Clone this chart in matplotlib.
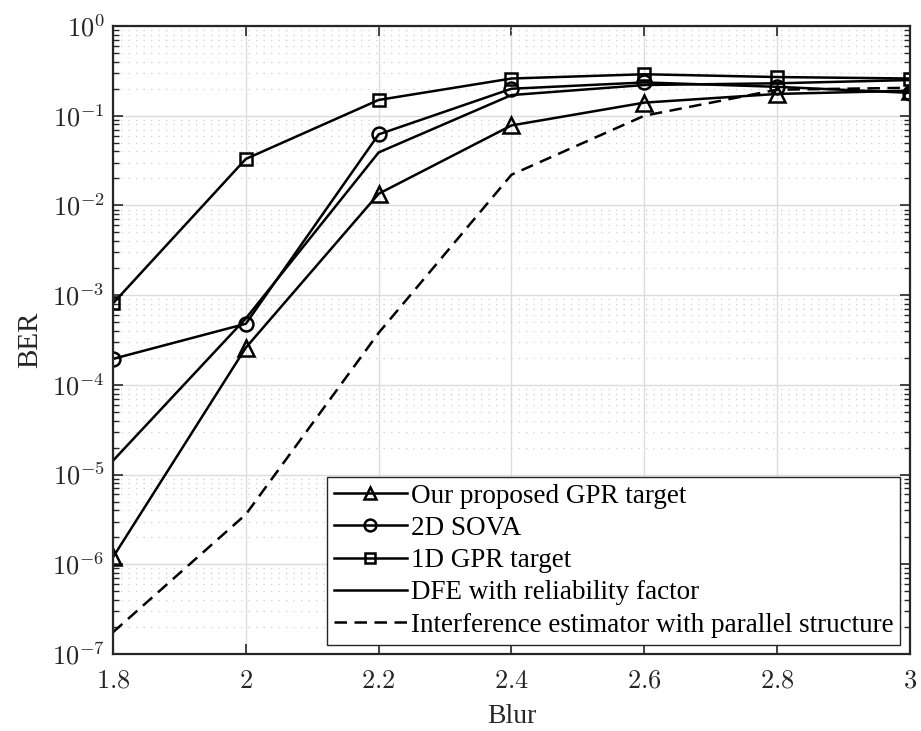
import math
import matplotlib
matplotlib.use("Agg")
import matplotlib.pyplot as plt
from matplotlib.ticker import FixedLocator, FuncFormatter, NullFormatter

plt.rcParams['mathtext.fontset'] = 'cm'

blur = [1.8, 2.0, 2.2, 2.4, 2.6, 2.8, 3.0]
ber_proposed = [1.2e-6, 2.6e-4, 1.35e-2, 7.8e-2, 0.14, 0.175, 0.19]
ber_sova2d = [1.95e-4, 4.8e-4, 6.2e-2, 0.20, 0.235, 0.21, 0.18]
ber_gpr1d = [8.1e-4, 3.3e-2, 0.15, 0.26, 0.29, 0.27, 0.26]
ber_dfe = [1.43e-5, 5.5e-4, 3.9e-2, 0.17, 0.22, 0.23, 0.25]
ber_interf = [1.75e-7, 3.6e-6, 3.8e-4, 2.2e-2, 0.10, 0.195, 0.205]

labels = ["Our proposed GPR target", "2D SOVA", "1D GPR target",
          "DFE with reliability factor", "Interference estimator with parallel structure"]
xticks = [1.8, 2.0, 2.2, 2.4, 2.6, 2.8, 3.0]
yexps = [-7, -6, -5, -4, -3, -2, -1, 0]

fig = plt.figure(figsize=(9.21, 7.31), dpi=100)
ax = fig.add_axes([0.1227, 0.1053, 0.8653, 0.8591])

lw = 1.8
ax.plot(blur, ber_proposed, '-^', color='k', lw=lw, ms=11, mfc='none', mew=1.8, label=labels[0])
ax.plot(blur, ber_sova2d, '-o', color='k', lw=lw, ms=10, mfc='none', mew=1.8, label=labels[1])
ax.plot(blur, ber_gpr1d, '-s', color='k', lw=lw, ms=9, mfc='none', mew=1.8, label=labels[2])
ax.plot(blur, ber_dfe, '-', color='k', lw=lw, label=labels[3])
ax.plot(blur, ber_interf, '--', color='k', lw=lw, dashes=(5, 3), label=labels[4])

ax.set_yscale('log')
ax.set_xlim(1.8, 3.0)
ax.set_ylim(1e-7, 1e0)
ax.xaxis.set_major_locator(FixedLocator(xticks))
ax.xaxis.set_major_formatter(FuncFormatter(lambda v, p: r'$%g$' % round(v, 2)))
ax.yaxis.set_major_locator(FixedLocator([10.0 ** e for e in yexps]))
minor = [m * 10.0 ** e for e in yexps[:-1] for m in range(2, 10)]
ax.yaxis.set_minor_locator(FixedLocator(minor))
ax.yaxis.set_minor_formatter(NullFormatter())
ax.yaxis.set_major_formatter(FuncFormatter(lambda v, p: r'$10^{%d}$' % round(math.log10(v))))

ax.tick_params(axis='both', which='both', direction='in', top=True, right=True,
               colors='#262626', labelsize=19)
ax.tick_params(axis='both', which='major', length=7, width=1.2)
ax.tick_params(axis='y', which='minor', length=4, width=1.0)
ax.tick_params(axis='x', which='major', pad=10)
ax.tick_params(axis='y', which='major', pad=6)

ax.grid(True, which='major', color='#dcdcdc', lw=1.0, ls='-')
ax.grid(True, which='minor', axis='y', color='#cfcfcf', lw=0.9, ls=(0, (1, 5)))
ax.set_axisbelow(True)
for s in ax.spines.values():
    s.set_linewidth(1.6)
    s.set_color('#262626')

ax.set_xlabel('Blur', family='Liberation Serif', fontsize=20, color='#262626', labelpad=7)
ax.set_ylabel('BER', family='Liberation Serif', fontsize=21, color='#262626', labelpad=6)

leg = ax.legend(loc='lower right', prop={'family': 'Liberation Serif', 'size': 19.5},
                frameon=True, fancybox=False, edgecolor='#262626', framealpha=1,
                handlelength=2.7, handletextpad=0.15, borderpad=0.25, labelspacing=0.27,
                borderaxespad=0.35, markerscale=0.85)
leg.get_frame().set_linewidth(1.0)

fig.savefig('out.png', dpi=100)
